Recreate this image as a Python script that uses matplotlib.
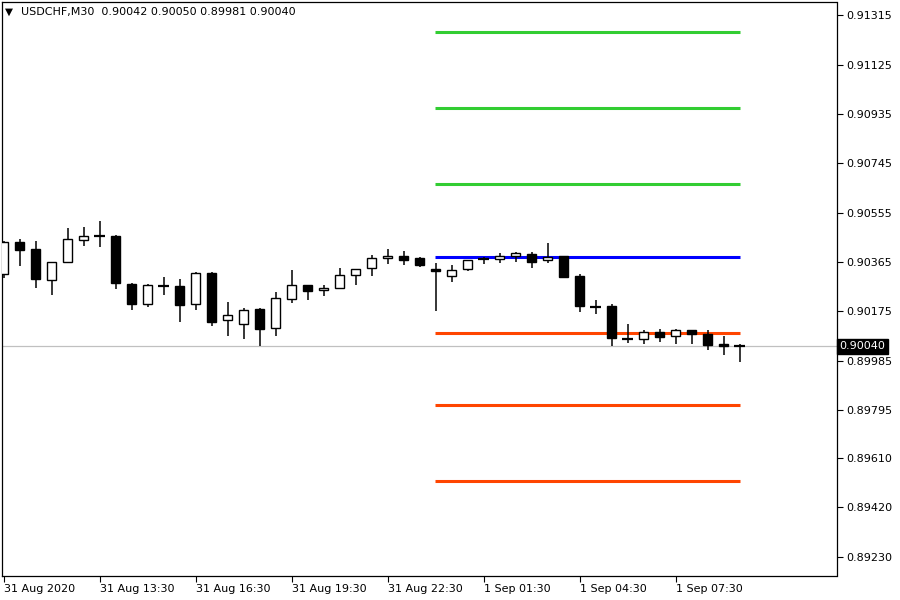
import matplotlib
matplotlib.use("Agg")
import matplotlib.pyplot as plt
from matplotlib.patches import Rectangle
from matplotlib.transforms import blended_transform_factory

symbol = "USDCHF,M30"
header_ohlc = ["0.90042", "0.90050", "0.89981", "0.90040"]

opens = [0.90318, 0.90441, 0.90415, 0.90297, 0.90364, 0.90449, 0.90465, 0.90465,
         0.90280, 0.90204, 0.90275, 0.90273, 0.90202, 0.90323, 0.90140, 0.90125,
         0.90183, 0.90110, 0.90224, 0.90275, 0.90256, 0.90264, 0.90314, 0.90341,
         0.90379, 0.90387, 0.90380, 0.90339, 0.90310, 0.90337, 0.90375, 0.90375,
         0.90387, 0.90395, 0.90372, 0.90388, 0.90310, 0.90193, 0.90194, 0.90071,
         0.90067, 0.90094, 0.90079, 0.90102, 0.90088, 0.90049, 0.90042]
highs = [0.90446, 0.90454, 0.90446, 0.90366, 0.90496, 0.90500, 0.90523, 0.90469,
         0.90284, 0.90280, 0.90307, 0.90300, 0.90325, 0.90326, 0.90211, 0.90187,
         0.90187, 0.90249, 0.90334, 0.90276, 0.90275, 0.90342, 0.90338, 0.90392,
         0.90415, 0.90407, 0.90383, 0.90360, 0.90353, 0.90372, 0.90383, 0.90398,
         0.90403, 0.90402, 0.90437, 0.90388, 0.90318, 0.90219, 0.90203, 0.90125,
         0.90102, 0.90107, 0.90107, 0.90102, 0.90102, 0.90079, 0.90050]
lows = [0.90303, 0.90351, 0.90266, 0.90239, 0.90363, 0.90428, 0.90421, 0.90262,
        0.90181, 0.90193, 0.90239, 0.90135, 0.90181, 0.90120, 0.90081, 0.90070,
        0.90041, 0.90081, 0.90208, 0.90219, 0.90235, 0.90263, 0.90278, 0.90312,
        0.90356, 0.90355, 0.90347, 0.90177, 0.90289, 0.90331, 0.90358, 0.90362,
        0.90366, 0.90343, 0.90362, 0.90308, 0.90174, 0.90166, 0.90043, 0.90052,
        0.90048, 0.90058, 0.90050, 0.90048, 0.90027, 0.90008, 0.89981]
closes = [0.90441, 0.90412, 0.90301, 0.90364, 0.90454, 0.90465, 0.90463, 0.90285,
          0.90204, 0.90276, 0.90273, 0.90200, 0.90323, 0.90135, 0.90160, 0.90179,
          0.90108, 0.90225, 0.90275, 0.90252, 0.90264, 0.90314, 0.90337, 0.90379,
          0.90387, 0.90374, 0.90355, 0.90331, 0.90333, 0.90372, 0.90376, 0.90387,
          0.90398, 0.90366, 0.90385, 0.90308, 0.90197, 0.90191, 0.90071, 0.90069,
          0.90094, 0.90075, 0.90102, 0.90087, 0.90044, 0.90043, 0.90040]

time_tick_bars = [0, 6, 12, 18, 24, 30, 36, 42]
time_labels = ["31 Aug 2020", "31 Aug 13:30", "31 Aug 16:30", "31 Aug 19:30",
               "31 Aug 22:30", "1 Sep 01:30", "1 Sep 04:30", "1 Sep 07:30"]
price_ticks = [0.91315, 0.91125, 0.90935, 0.90745, 0.90555, 0.90365,
               0.90175, 0.89985, 0.89795, 0.89610, 0.89420, 0.89230]
price_labels = ["0.91315", "0.91125", "0.90935", "0.90745", "0.90555", "0.90365",
                "0.90175", "0.89985", "0.89795", "0.89610", "0.89420", "0.89230"]

pivot_start_bar = 27
resistance = [0.91250, 0.90957, 0.90664]
pivot = 0.90383
support = [0.90090, 0.89813, 0.89520]
last_price = 0.90040

plt.rcParams['font.family'] = ['DejaVu Sans']

W, H = 900, 600
fig = plt.figure(figsize=(9, 6), dpi=100)
fig.patch.set_facecolor('white')
ax = fig.add_axes([2 / W, 24 / H, 834.5 / W, 574 / H])
ax.set_facecolor('white')

n = len(opens)
ax.set_xlim(-0.094, 52.06)
ax.set_ylim(0.891557, 0.913662)

# current price line
ax.axhline(last_price, color='#c0c0c0', lw=0.9, zorder=0.5)

# pivot levels
lw_piv = 2.2
for r in resistance:
    ax.hlines(r, pivot_start_bar - 0.05, n - 1 + 0.03, color='#32cd32', lw=lw_piv, zorder=3)
ax.hlines(pivot, pivot_start_bar - 0.05, n - 1 + 0.03, color='#0000ff', lw=lw_piv, zorder=3)
for s in support:
    ax.hlines(s, pivot_start_bar - 0.05, n - 1 + 0.03, color='#ff4500', lw=lw_piv, zorder=3)

# candles
bw = 0.6
for i in range(n):
    o, h, l, c = opens[i], highs[i], lows[i], closes[i]
    ax.vlines(i, l, h, color='black', lw=1.1, zorder=4)
    if abs(c - o) < 0.000035:
        ax.hlines((o + c) / 2, i - 0.34, i + 0.34, color='black', lw=1.6, zorder=5)
    else:
        fc = 'white' if c > o else 'black'
        ax.add_patch(Rectangle((i - bw / 2, min(o, c)), bw, abs(c - o),
                               facecolor=fc, edgecolor='black', lw=1.0, zorder=5))

# axes styling
for sp in ax.spines.values():
    sp.set_color('black')
    sp.set_linewidth(0.9)

ax.yaxis.tick_right()
ax.set_yticks(price_ticks)
ax.set_yticklabels(price_labels)
ax.set_xticks(time_tick_bars)
ax.set_xticklabels(time_labels, ha='left')
ax.tick_params(axis='y', direction='out', length=4, width=0.8, pad=3,
               labelsize=8, colors='black')
ax.tick_params(axis='x', direction='out', length=4, width=0.8, pad=2,
               labelsize=8, colors='black')

# last price tag
trans = blended_transform_factory(ax.transAxes, ax.transData)
ax.text(1.0035, last_price, "0.90040", transform=trans, ha='left', va='center',
        fontsize=8, color='white', zorder=10, clip_on=False,
        bbox=dict(facecolor='black', edgecolor='black', boxstyle='square,pad=0.25'))

# header
fig.text(5 / W, 1 - 12 / H, "\u25bc", fontsize=7.5, va='center', ha='left', color='black')
fig.text(21 / W, 1 - 12 / H, symbol + "  " + " ".join(header_ohlc),
         fontsize=8, va='center', ha='left', color='black')

fig.savefig("out.png", dpi=100, facecolor='white')
